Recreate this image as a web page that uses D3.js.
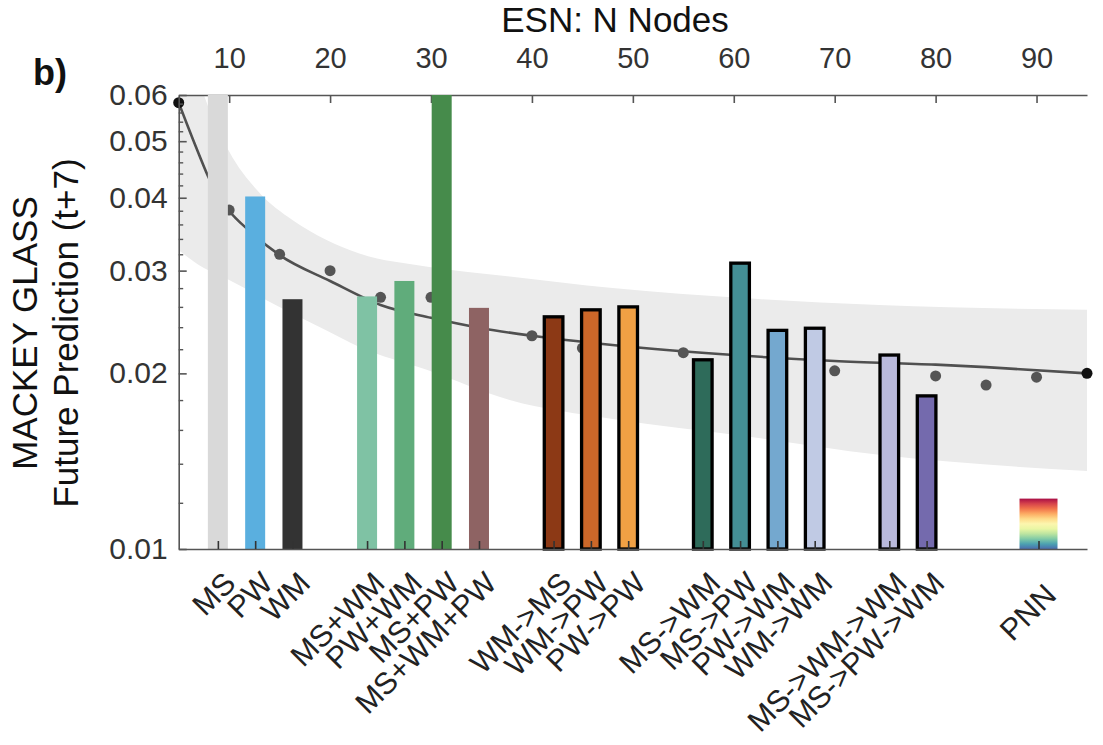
<!DOCTYPE html>
<html>
<head>
<meta charset="utf-8">
<script src="https://cdn.jsdelivr.net/npm/d3@7"></script>
<style>
	html, body {margin: 0; padding: 0; background: #fff;}
	svg text {font-family: "Liberation Sans", Arial, sans-serif;}
</style>
</head>
<body>
<div id="chart"></div>
<script>
// Bars: model type, slot on the bottom axis, error value
const categories = ["MS", "PW", "WM", "MS+WM", "PW+WM", "MS+PW", "MS+WM+PW",
	"WM->MS", "WM->PW", "PW->PW", "MS->WM", "MS->PW", "PW->WM", "WM->WM",
	"MS->WM->WM", "MS->PW->WM", "PNN"];
const slots = [1, 2, 3, 5, 6, 7, 8, 10, 11, 12, 14, 15, 16, 17, 19, 20, 23];
const errors = [0.06, 0.0402, 0.0268, 0.0271, 0.0288, 0.06, 0.0259,
	0.0250, 0.0257, 0.0260, 0.0211, 0.0309, 0.0237, 0.0239,
	0.0215, 0.0183, 0.0122];
const barColors = ["#d9d9d9", "#5aafdf", "#333333", "#7fc2a4", "#60ac7b", "#468b4b", "#8e6363",
	"#8c3915", "#cc6729", "#f0a044", "#2e6b5a", "#448e95", "#74a8cf", "#c0cae4",
	"#babadc", "#746aad", "spectral"];
const outlined = [false, false, false, false, false, false, false,
	true, true, true, true, true, true, true, true, true, false];

// ESN reference: N nodes vs error
const nodeTicks = [10, 20, 30, 40, 50, 60, 70, 80, 90];
const fitNodes = [5, 7, 8, 10, 12, 15, 20, 25, 30, 35, 40, 50, 60, 70, 80, 85, 95];
const fitError = [0.0582, 0.0475, 0.0432, 0.0380, 0.0351, 0.0319, 0.0288, 0.0262, 0.0249,
	0.0239, 0.0232, 0.0222, 0.0215, 0.0210, 0.0207, 0.0205, 0.0200];
const sampleNodes = [10, 15, 20, 25, 30, 40, 45, 55, 70, 80, 85, 90];
const sampleError = [0.0381, 0.0320, 0.0300, 0.0270, 0.0270, 0.0232, 0.0221, 0.0217,
	0.0202, 0.0198, 0.0191, 0.0197];
const endNodes = [5, 95];
const endError = [0.0582, 0.0200];
const bandNodes = [5, 7.5, 10, 13, 16.3, 19.6, 22.9, 29.5, 37.8, 48, 61.2, 74.4, 95];
const bandUpper = [0.085, 0.06, 0.048, 0.0408, 0.0366, 0.0339, 0.0321, 0.0305, 0.0293,
	0.0280, 0.0269, 0.0262, 0.0257];
const bandLower = [0.0325, 0.0303, 0.0289, 0.0271, 0.0253, 0.0237, 0.0222, 0.0203, 0.0180,
	0.0167, 0.0156, 0.0145, 0.0136];

const yMajor = [0.01, 0.02, 0.03, 0.04, 0.05, 0.06];

const WIDTH = 1103, HEIGHT = 745;
const MARGIN = {top: 95, right: 16, bottom: 196, left: 178.7};
const innerW = WIDTH - MARGIN.left - MARGIN.right;
const innerH = HEIGHT - MARGIN.top - MARGIN.bottom;
const AXIS = "#555";

const svg = d3.select("#chart").append("svg")
	.attr("width", WIDTH)
	.attr("height", HEIGHT);

const defs = svg.append("defs");
defs.append("clipPath").attr("id", "plot-clip")
	.append("rect").attr("width", innerW).attr("height", innerH);

const grad = defs.append("linearGradient").attr("id", "pnn-grad")
	.attr("x1", 0).attr("y1", 0).attr("x2", 0).attr("y2", 1);
d3.range(0, 1.0001, 0.1).forEach(t => {
	grad.append("stop").attr("offset", t).attr("stop-color", d3.interpolateSpectral(0.02 + t * 0.93));
});

const g = svg.append("g").attr("transform", `translate(${MARGIN.left},${MARGIN.top})`);

const y = d3.scaleLog().domain([0.01, 0.06]).range([innerH, 0]);
const xNodes = d3.scaleLinear().domain([5, 95]).range([0, innerW]);
const xSlot = d3.scaleLinear().domain([-0.05, 24.3]).range([0, innerW]);

// Shaded band
const band = bandNodes.map((n, i) => ({n, hi: bandUpper[i], lo: bandLower[i]}));
g.append("path")
	.datum(band)
	.attr("clip-path", "url(#plot-clip)")
	.attr("fill", "#ebebeb")
	.attr("d", d3.area()
		.x(d => xNodes(d.n))
		.y0(d => y(d.lo))
		.y1(d => y(d.hi))
		.curve(d3.curveMonotoneX));

// Fitted curve
g.append("path")
	.datum(fitNodes.map((n, i) => ({n, v: fitError[i]})))
	.attr("clip-path", "url(#plot-clip)")
	.attr("fill", "none")
	.attr("stroke", "#505050")
	.attr("stroke-width", 2.6)
	.attr("d", d3.line().x(d => xNodes(d.n)).y(d => y(d.v)).curve(d3.curveMonotoneX));

// Sample points
g.append("g").selectAll("circle")
	.data(sampleNodes.map((n, i) => ({n, v: sampleError[i]})))
	.join("circle")
	.attr("cx", d => xNodes(d.n))
	.attr("cy", d => y(d.v))
	.attr("r", 5.5)
	.attr("fill", "#555");

// Top axis (ESN nodes)
const topAxis = g.append("g")
	.call(d3.axisTop(xNodes).tickValues(nodeTicks).tickSize(-8).tickSizeOuter(0).tickPadding(27));
topAxis.select(".domain").attr("stroke", AXIS).attr("stroke-width", 1.6);
topAxis.selectAll(".tick line").attr("stroke", AXIS).attr("stroke-width", 1.6);
topAxis.selectAll(".tick text").attr("font-size", 29).attr("fill", "#333");

svg.append("text")
	.attr("x", 615)
	.attr("y", 32)
	.attr("text-anchor", "middle")
	.attr("font-size", 35)
	.attr("fill", "#111")
	.text("ESN: N Nodes");

// Bars
const bars = categories.map((c, i) => ({c, slot: slots[i], v: errors[i], color: barColors[i], outline: outlined[i]}));
g.append("g").selectAll("rect")
	.data(bars)
	.join("rect")
	.attr("x", d => xSlot(d.slot) - (d.c === "PNN" ? 19 : d.outline ? 9.3 : 10))
	.attr("width", d => d.c === "PNN" ? 38 : d.outline ? 18.6 : 20)
	.attr("y", d => y(d.v))
	.attr("height", d => innerH - y(d.v))
	.attr("fill", d => d.color === "spectral" ? "url(#pnn-grad)" : d.color)
	.attr("stroke", d => d.outline ? "#000" : "none")
	.attr("stroke-width", 3.3);

// End points of the fit
g.append("g").selectAll("circle")
	.data(endNodes.map((n, i) => ({n, v: endError[i]})))
	.join("circle")
	.attr("cx", d => xNodes(d.n))
	.attr("cy", d => y(d.v))
	.attr("r", 5.5)
	.attr("fill", "#111");

// Bottom axis: ticks only, labels rotated
const bottomAxis = g.append("g")
	.attr("transform", `translate(0,${innerH})`)
	.call(d3.axisBottom(xSlot).tickValues(slots).tickSize(-8).tickSizeOuter(0).tickFormat(""));
bottomAxis.select(".domain").attr("stroke", AXIS).attr("stroke-width", 1.6);
bottomAxis.selectAll(".tick line").attr("stroke", "#333").attr("stroke-width", 1.6);

g.append("g").selectAll("text")
	.data(bars)
	.join("text")
	.attr("transform", d => `translate(${xSlot(d.slot) + 19.5},${innerH + (d.c === "PNN" ? 48 : 36)}) rotate(-45)`)
	.attr("text-anchor", "end")
	.attr("font-size", 30.5)
	.attr("fill", "#222")
	.text(d => d.c);

// Left axis (log)
const minor = d3.range(0.012, 0.0599, 0.002).filter(v => Math.abs(v * 100 - Math.round(v * 100)) > 1e-6);
const minorAxis = g.append("g")
	.call(d3.axisLeft(y).tickValues(minor).tickSize(-4.5).tickSizeOuter(0).tickFormat(""));
minorAxis.select(".domain").remove();
minorAxis.selectAll(".tick line").attr("stroke", AXIS).attr("stroke-width", 1.4);

const leftAxis = g.append("g")
	.call(d3.axisLeft(y).tickValues(yMajor).tickSize(-8).tickSizeOuter(0).tickPadding(11).tickFormat(d3.format(".2f")));
leftAxis.select(".domain").attr("stroke", AXIS).attr("stroke-width", 1.6);
leftAxis.selectAll(".tick line").attr("stroke", AXIS).attr("stroke-width", 1.6);
leftAxis.selectAll(".tick text").attr("font-size", 30).attr("fill", "#333");

// Y label
const yLab = svg.append("text")
	.attr("transform", `translate(0,${MARGIN.top + 238}) rotate(-90)`)
	.attr("text-anchor", "middle")
	.attr("font-size", 35)
	.attr("fill", "#111");
yLab.append("tspan").attr("x", 0).attr("y", 37).text("MACKEY GLASS");
yLab.append("tspan").attr("x", 0).attr("y", 78).text("Future Prediction (t+7)");

// Panel letter
svg.append("text")
	.attr("x", 33)
	.attr("y", 85)
	.attr("font-size", 36)
	.attr("font-weight", "bold")
	.attr("fill", "#111")
	.text("b)");
</script>
</body>
</html>
